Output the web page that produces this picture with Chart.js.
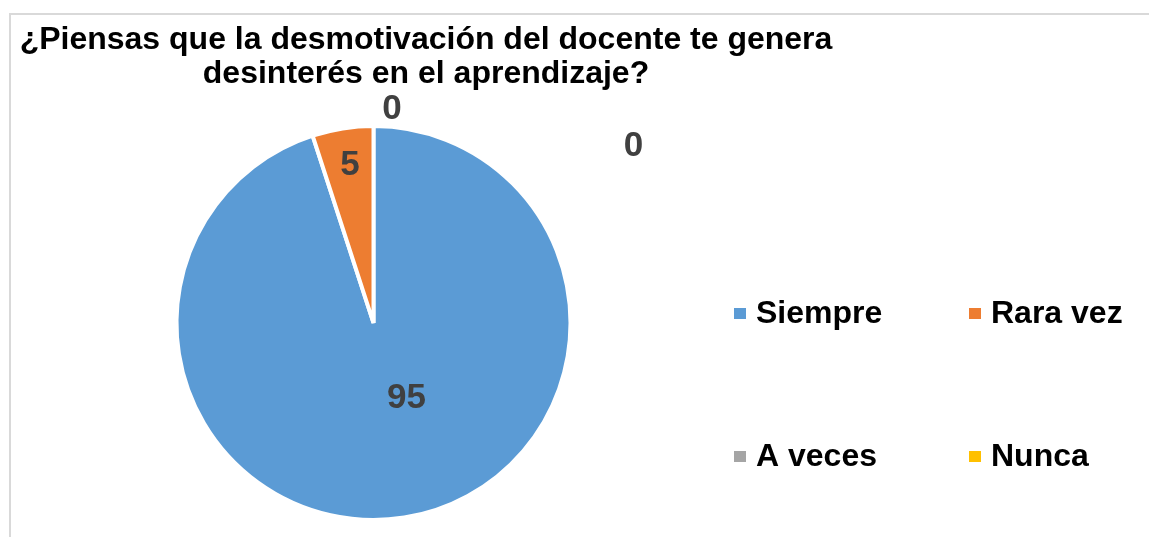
<!DOCTYPE html>
<html>
<head>
<meta charset="utf-8">
<script src="https://cdn.jsdelivr.net/npm/chart.js@4"></script>
<style>
  html, body { margin: 0; padding: 0; background: #fff; }
  #wrap { position: relative; width: 1149px; height: 537px; overflow: hidden; }
  #frame { position: absolute; left: 9px; top: 13px; right: -5px; bottom: -5px;
           border-left: 2px solid #d9d9d9; border-top: 2px solid #d9d9d9; pointer-events: none; }
  canvas { position: absolute; left: 0; top: 0; }
</style>
</head>
<body>
<div id="wrap">
  <canvas id="c" width="1149" height="537"></canvas>
  <div id="frame"></div>
</div>
<script>
// ---- data ----
const titleLines = ['¿Piensas que la desmotivación del docente te genera', 'desinterés en el aprendizaje?'];
const categories = ['Siempre', 'Rara vez', 'A veces', 'Nunca'];
const values = [95, 5, 0, 0];
const colors = ['#5B9BD5', '#ED7D31', '#A5A5A5', '#FFC000'];
// label placement relative to pie centre, in units of the radius (Excel best-fit positions)
const labelOffsets = [[0.169, 0.372], [-0.121, -0.823], [0.095, -1.108], [1.333, -0.923]];

const FONT = '"Liberation Sans", Arial, sans-serif';

const titlePlugin = {
  id: 'customTitle',
  afterDraw(chart) {
    const ctx = chart.ctx;
    ctx.save();
    ctx.fillStyle = '#000';
    ctx.font = 'bold 32px ' + FONT;
    ctx.textAlign = 'center';
    ctx.textBaseline = 'alphabetic';
    titleLines.forEach((t, i) => ctx.fillText(t, 426, 49 + i * 34));
    ctx.restore();
  }
};

const labelPlugin = {
  id: 'valueLabels',
  afterDraw(chart) {
    const ctx = chart.ctx;
    const meta = chart.getDatasetMeta(0);
    ctx.save();
    ctx.fillStyle = '#404040';
    ctx.font = 'bold 35px ' + FONT;
    ctx.textAlign = 'center';
    ctx.textBaseline = 'alphabetic';
    meta.data.forEach((arc, i) => {
      const r = arc.outerRadius - 2;
      const x = arc.x + labelOffsets[i][0] * r;
      const y = arc.y + labelOffsets[i][1] * r;
      ctx.fillText(String(chart.data.datasets[0].data[i]), x, y + 12.5);
    });
    ctx.restore();
  }
};

const legendPlugin = {
  id: 'gridLegend',
  afterDraw(chart) {
    const ctx = chart.ctx;
    const colX = [734, 969];
    const rowY = [323, 466];
    ctx.save();
    ctx.font = 'bold 32px ' + FONT;
    ctx.textAlign = 'left';
    ctx.textBaseline = 'alphabetic';
    chart.data.labels.forEach((lab, i) => {
      const x = colX[i % 2];
      const y = rowY[Math.floor(i / 2)];
      ctx.fillStyle = chart.data.datasets[0].backgroundColor[i];
      ctx.fillRect(x, y - 15, 12, 11);
      ctx.fillStyle = '#000';
      ctx.fillText(lab, x + 22, y);
    });
    ctx.restore();
  }
};

new Chart(document.getElementById('c'), {
  type: 'pie',
  data: {
    labels: categories,
    datasets: [{
      data: values,
      backgroundColor: colors,
      borderColor: '#ffffff',
      borderWidth: 4
    }]
  },
  options: {
    responsive: false,
    animation: false,
    radius: 197,
    layout: { padding: { left: 170, right: 572, top: 116, bottom: 7 } },
    plugins: {
      legend: { display: false },
      title: { display: false },
      tooltip: { enabled: false }
    }
  },
  plugins: [titlePlugin, labelPlugin, legendPlugin]
});
</script>
</body>
</html>
